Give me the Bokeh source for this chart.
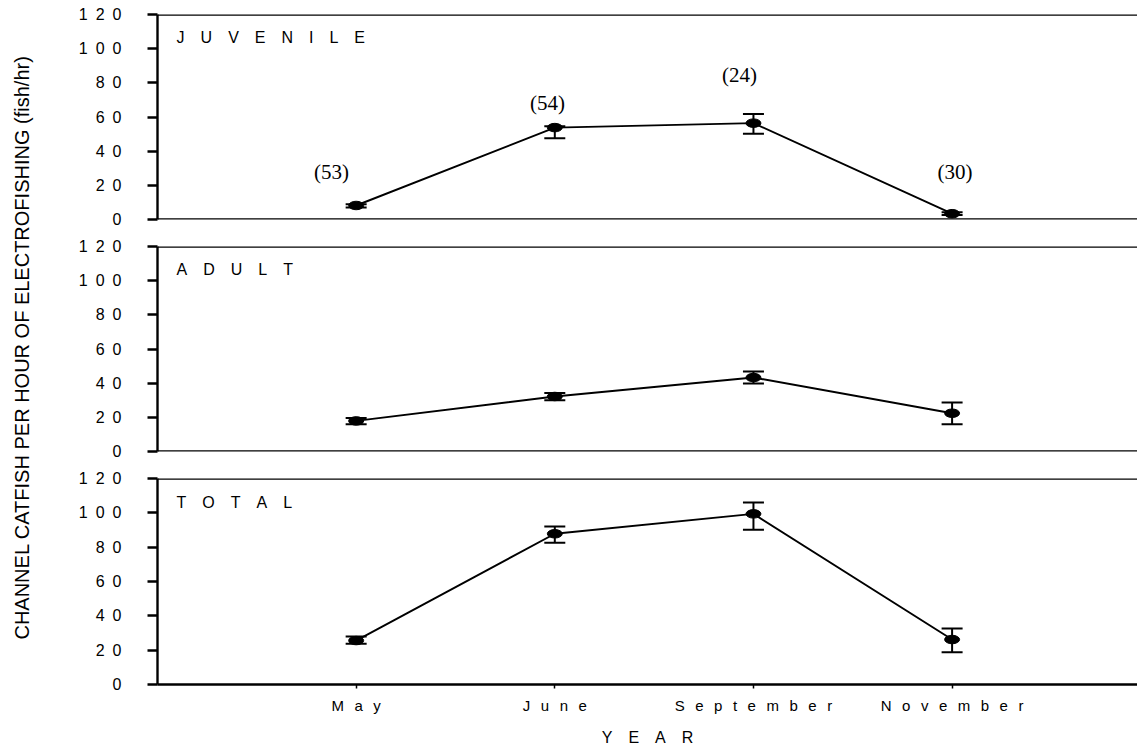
import math
from bokeh.plotting import figure
from bokeh.layouts import row, column
from bokeh.models import Range1d, FixedTicker, Span, Whisker, TeeHead, ColumnDataSource, Label
from bokeh.core.properties import value
from bokeh.embed import file_html
from bokeh.resources import INLINE

# ---------------- data ----------------
months = ["May", "June", "September", "November"]
y_ticks = [0, 20, 40, 60, 80, 100, 120]

juvenile_mean = [8.2, 53.8, 56.4, 3.4]
juvenile_low = [7.0, 47.6, 50.2, 2.6]
juvenile_high = [9.0, 54.6, 61.7, 4.2]
juvenile_n = [53, 54, 24, 30]

adult_mean = [17.9, 32.2, 43.3, 22.4]
adult_low = [16.0, 30.0, 39.8, 16.0]
adult_high = [19.6, 34.2, 46.8, 28.7]

total_mean = [25.6, 87.8, 99.4, 26.2]
total_low = [23.7, 82.6, 90.1, 18.8]
total_high = [28.0, 92.0, 106.0, 32.6]

# ---------------- layout constants ----------------
n_label_x = [0.876, 1.963, 2.93, 4.014]
n_label_y = [27.7, 68.2, 84.3, 27.7]
FONT = "Liberation Sans"
SERIF = "Liberation Serif"
SEP_Y = "\u2002"
SEP_X = "\u2002\u2009"
SEP_BIG = "\u2003"
FRAME_W = 980
X_END = FRAME_W / 198.65
LW = 2.4


def spaced(s, sep):
    return sep.join(list(s))


xs = [i + 1 for i in range(len(months))]


def panel(name, mean, low, high, frame_h, top, bottom, show_x):
    p = figure(frame_width=FRAME_W, frame_height=frame_h,
               x_range=Range1d(0, X_END), y_range=Range1d(0, 120),
               output_backend="svg", toolbar_location=None, title=None,
               x_axis_location="below" if show_x else None,
               min_border_left=115, min_border_right=0,
               min_border_top=top, min_border_bottom=bottom)
    p.outline_line_color = None
    p.grid.grid_line_color = None
    p.background_fill_color = "white"
    p.border_fill_color = "white"

    ya = p.yaxis[0]
    ya.ticker = FixedTicker(ticks=y_ticks)
    ya.major_label_overrides = {t: spaced(str(t), SEP_Y) for t in y_ticks}
    ya.major_tick_out = 10
    ya.major_tick_in = 0
    ya.minor_tick_line_color = None
    ya.axis_line_width = LW
    ya.axis_line_color = "black"
    ya.major_tick_line_width = LW
    ya.major_tick_line_color = "black"
    ya.major_label_standoff = 26
    ya.major_label_text_font = FONT
    ya.major_label_text_font_size = "16px"
    ya.major_label_text_color = "black"

    p.add_layout(Span(location=120, dimension="width", line_color="black", line_width=LW))
    if show_x:
        xa = p.xaxis[0]
        xa.ticker = FixedTicker(ticks=xs)
        xa.major_label_overrides = {x: spaced(m, SEP_X) for x, m in zip(xs, months)}
        xa.major_tick_out = 4
        xa.major_tick_in = 0
        xa.minor_tick_line_color = None
        xa.axis_line_width = LW
        xa.axis_line_color = "black"
        xa.major_tick_line_width = 1.5
        xa.major_tick_line_color = "black"
        xa.major_label_standoff = 8
        xa.major_label_text_font = FONT
        xa.major_label_text_font_size = "15px"
        xa.major_label_text_color = "black"
        xa.axis_label = spaced("YEAR", SEP_BIG)
        xa.axis_label_text_font = FONT
        xa.axis_label_text_font_size = "16px"
        xa.axis_label_text_font_style = "normal"
        xa.axis_label_text_color = "black"
        xa.axis_label_standoff = 12
    else:
        p.add_layout(Span(location=0, dimension="width", line_color="black", line_width=LW))

    src = ColumnDataSource(dict(x=xs, mean=mean, low=low, high=high))
    w = Whisker(base="x", lower="low", upper="high", source=src, dimension="height",
                line_width=2, line_color="black",
                upper_head=TeeHead(size=21, line_width=2, line_color="black"),
                lower_head=TeeHead(size=21, line_width=2, line_color="black"))
    p.add_layout(w)
    p.line("x", "mean", source=src, line_width=1.9, line_color="black")
    p.ellipse(x="x", y="mean", width=15, height=8.5, width_units="screen",
              height_units="screen", fill_color="black", line_color="black", source=src)

    p.add_layout(Label(x=0.096, y=106.3, text=spaced(name, SEP_BIG), text_font=FONT,
                       text_font_size="16px", text_baseline="middle", text_align="left",
                       text_color="black"))
    return p


f1 = panel("JUVENILE", juvenile_mean, juvenile_low, juvenile_high, 205, 14, 13, False)
f1.text(x=n_label_x, y=n_label_y, text=[f"({n})" for n in juvenile_n],
        text_font=value(SERIF), text_font_size="21px", text_align="center",
        text_baseline="middle", text_color="black")
f2 = panel("ADULT", adult_mean, adult_low, adult_high, 205, 14, 13, False)
f3 = panel("TOTAL", total_mean, total_low, total_high, 206, 14, 63, True)

total_h = 232 + 232 + 283
tf = figure(width=42, height=total_h, x_range=Range1d(0, 1), y_range=Range1d(0, 1),
            output_backend="svg", toolbar_location=None, title=None,
            x_axis_location=None, y_axis_location=None,
            min_border=0)
tf.outline_line_color = None
tf.grid.grid_line_color = None
tf.add_layout(Label(x=21 / 42, y=1 - 347 / total_h,
                    text="CHANNEL CATFISH PER HOUR OF ELECTROFISHING (fish/hr)",
                    angle=math.pi / 2, text_align="center", text_baseline="middle",
                    text_font=FONT, text_font_size="20px", text_color="black"))

layout = row(tf, column(f1, f2, f3))

with open("out.html", "w", encoding="utf-8") as fh:
    fh.write(file_html(layout, INLINE))
